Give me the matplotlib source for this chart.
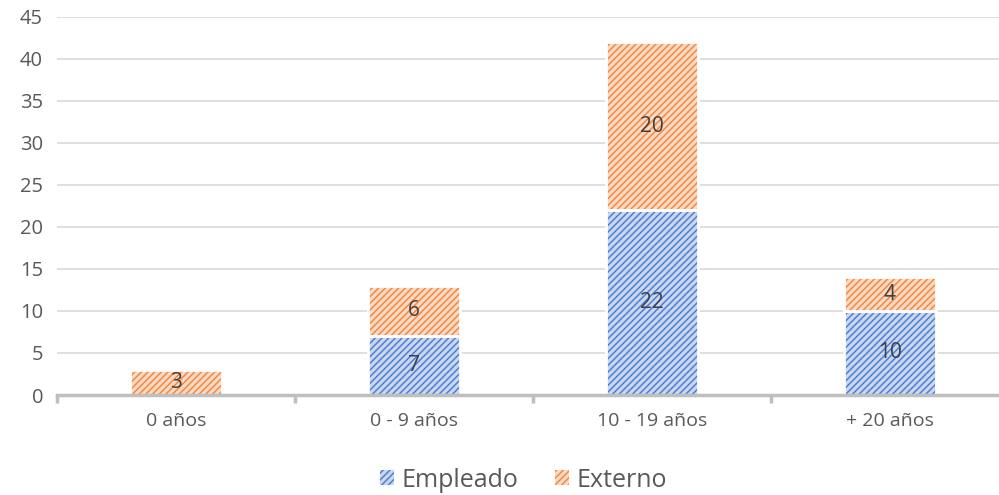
import matplotlib.pyplot as plt
import numpy as np

plt.rcParams['font.family'] = ['Open Sans', 'DejaVu Sans']
plt.rcParams['hatch.linewidth'] = 1.1

# Data
categorias = ['0 años', '0 - 9 años', '10 - 19 años', '+ 20 años']
empleado = [0, 7, 22, 10]
externo = [3, 6, 20, 4]

x = np.arange(len(categorias))
ancho = 0.385

fig = plt.figure(figsize=(9.99, 4.95), dpi=100)
ax = fig.add_axes([0.057, 0.202, 0.953, 0.764])

# hatched fill
ax.bar(x, empleado, ancho, color='#cad7f0', edgecolor='#4f7fd0',
       hatch='/////', linewidth=0, label='Empleado', zorder=3)
ax.bar(x, externo, ancho, bottom=empleado, color='#fbd9c2', edgecolor='#f08a44',
       hatch='/////', linewidth=0, label='Externo', zorder=3)
# white outline on top
ax.bar(x, empleado, ancho, facecolor='none', edgecolor='white', linewidth=2, zorder=3.5)
ax.bar(x, externo, ancho, bottom=empleado, facecolor='none', edgecolor='white',
       linewidth=2, zorder=3.5)

# Data labels
for i in range(len(x)):
    if empleado[i] > 0:
        ax.text(x[i], empleado[i] / 2, str(empleado[i]), ha='center', va='center',
                fontsize=15, color='#404040', zorder=4)
    ax.text(x[i], empleado[i] + externo[i] / 2, str(externo[i]), ha='center', va='center',
            fontsize=15, color='#404040', zorder=4)

ax.set_xlim(-0.5, len(x) - 0.5)
ax.set_ylim(0, 45)
ax.set_yticks(np.arange(0, 46, 5))
ax.grid(axis='y', color='#d9d9d9', linewidth=1.2, zorder=0)

for s in ['top', 'right', 'left']:
    ax.spines[s].set_visible(False)
ax.spines['bottom'].set_color('#bfbfbf')
ax.spines['bottom'].set_linewidth(2.5)
ax.spines['bottom'].set_zorder(5)

ax.set_xticks(np.arange(-0.5, len(x), 1))
ax.set_xticklabels([])
ax.set_xticks(x, minor=True)
ax.set_xticklabels(categorias, minor=True)
ax.tick_params(axis='x', which='major', length=6, width=2.5, color='#bfbfbf')
ax.tick_params(axis='x', which='minor', length=0, pad=12, labelsize=14, labelcolor='#595959')
ax.tick_params(axis='y', length=0, labelsize=14.5, labelcolor='#595959', pad=10)

ax.legend(loc='center', bbox_to_anchor=(0.49, -0.225), ncol=2, frameon=False,
          fontsize=18, labelcolor='#595959', handlelength=0.55, handleheight=0.55,
          handletextpad=0.3, columnspacing=1.5)

fig.savefig('out.png', dpi=100)
